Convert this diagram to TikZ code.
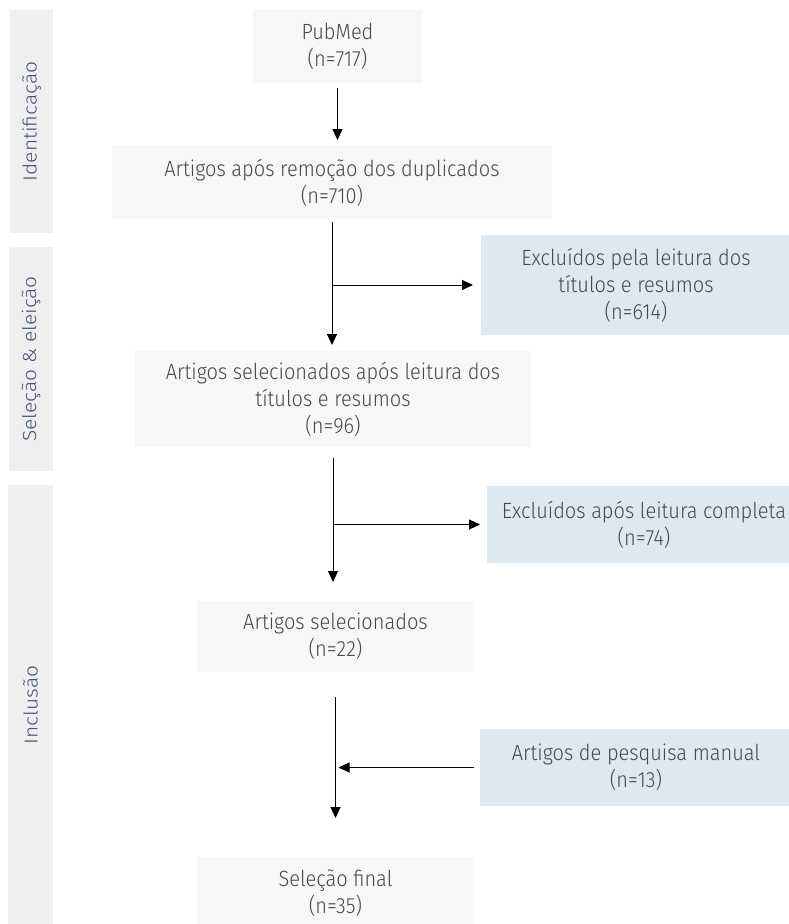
\documentclass[tikz,border=0pt]{standalone}
\usepackage{fontspec}
\setmainfont{Fira Sans}[UprightFont=* Light, FakeStretch=0.91]
\newfontfamily\sidefont{Fira Sans}[UprightFont=* Light, FakeStretch=1.1]
\usetikzlibrary{arrows.meta}
\definecolor{boxgray}{HTML}{F7F7F7}
\definecolor{bargray}{HTML}{EFEFEF}
\definecolor{boxblue}{HTML}{DEE8F3}
\definecolor{txtgray}{HTML}{484848}
\definecolor{sidetxt}{HTML}{44536F}
\tikzset{
  every node/.style={inner sep=0pt, outer sep=0pt},
  graybox/.style={rectangle, fill=boxgray, align=center, text=txtgray, font=\fontsize{22}{27}\selectfont},
  bluebox/.style={rectangle, fill=boxblue, align=center, text=txtgray, font=\fontsize{22}{27}\selectfont},
  sidebar/.style={rectangle, fill=bargray},
  sidelabel/.style={rotate=90, text=sidetxt, font=\sidefont\fontsize{19}{23}\selectfont},
  arr/.style={draw=black, line width=0.9pt, -{Triangle[length=11pt,width=10pt]}}
}
\begin{document}
\begin{tikzpicture}[x=1pt, y=-1pt]
\useasboundingbox (0,0) rectangle (789,924);
\clip (0,0) rectangle (789,924);
% side bars
\node[sidebar, minimum width=43pt, minimum height=223pt] (bar1) at (31.5,121.5) {};
\node[sidebar, minimum width=44pt, minimum height=224pt] (bar2) at (31,359) {};
\node[sidebar, minimum width=45pt, minimum height=440pt] (bar3) at (30.5,705) {};
\node[sidelabel] (l1) at (bar1.center) {Identificação};
\node[sidelabel] (l2) at (bar2.center) {Seleção \& eleição};
\node[sidelabel] (l3) at (bar3.center) {Inclusão};
% boxes
\node[graybox, minimum width=169pt, minimum height=73pt] (pub) at (337.5,46.5) {PubMed\\(n=717)};
\node[graybox, minimum width=440pt, minimum height=73pt] (dup) at (332,182.5) {Artigos após remoção dos duplicados\\(n=710)};
\node[bluebox, minimum width=310pt, minimum height=100pt] (exc1) at (636,285) {Excluídos pela leitura dos\\títulos e resumos\\(n=614)};
\node[graybox, minimum width=396pt, minimum height=96pt] (sel96) at (333,399) {Artigos selecionados após leitura dos\\títulos e resumos\\(n=96)};
\node[bluebox, minimum width=314pt, minimum height=77pt] (exc2) at (644,524.5) {Excluídos após leitura completa\\(n=74)};
\node[graybox, minimum width=277pt, minimum height=71pt] (sel22) at (335.5,636.5) {Artigos selecionados\\(n=22)};
\node[bluebox, minimum width=312pt, minimum height=77pt] (man) at (636,767.5) {Artigos de pesquisa manual\\(n=13)};
\node[graybox, minimum width=277pt, minimum height=72pt] (fin) at (335.5,893) {Seleção final\\(n=35)};
% connectors
\draw[arr, shorten <=5pt, shorten >=6pt] (pub.south) -- (pub.south |- dup.north);
\draw[arr, shorten <=3pt, shorten >=6pt] (dup.south) -- (dup.south |- sel96.north);
\coordinate (b1) at (dup.south |- exc1.west);
\draw[arr, shorten >=8pt] (b1) -- (exc1.west);
\draw[arr, shorten <=11pt, shorten >=19pt] (sel96.south) -- (sel96.south |- sel22.north);
\coordinate (b2) at (sel96.south |- exc2.west);
\draw[arr, shorten >=7pt] (b2) -- (exc2.west);
\draw[arr, shorten <=25pt, shorten >=39pt] (sel22.south) -- (sel22.south |- fin.north);
\coordinate (b3) at (sel22.south |- man.west);
\draw[arr, shorten <=6pt, shorten >=3pt] (man.west) -- (b3);
\end{tikzpicture}
\end{document}
